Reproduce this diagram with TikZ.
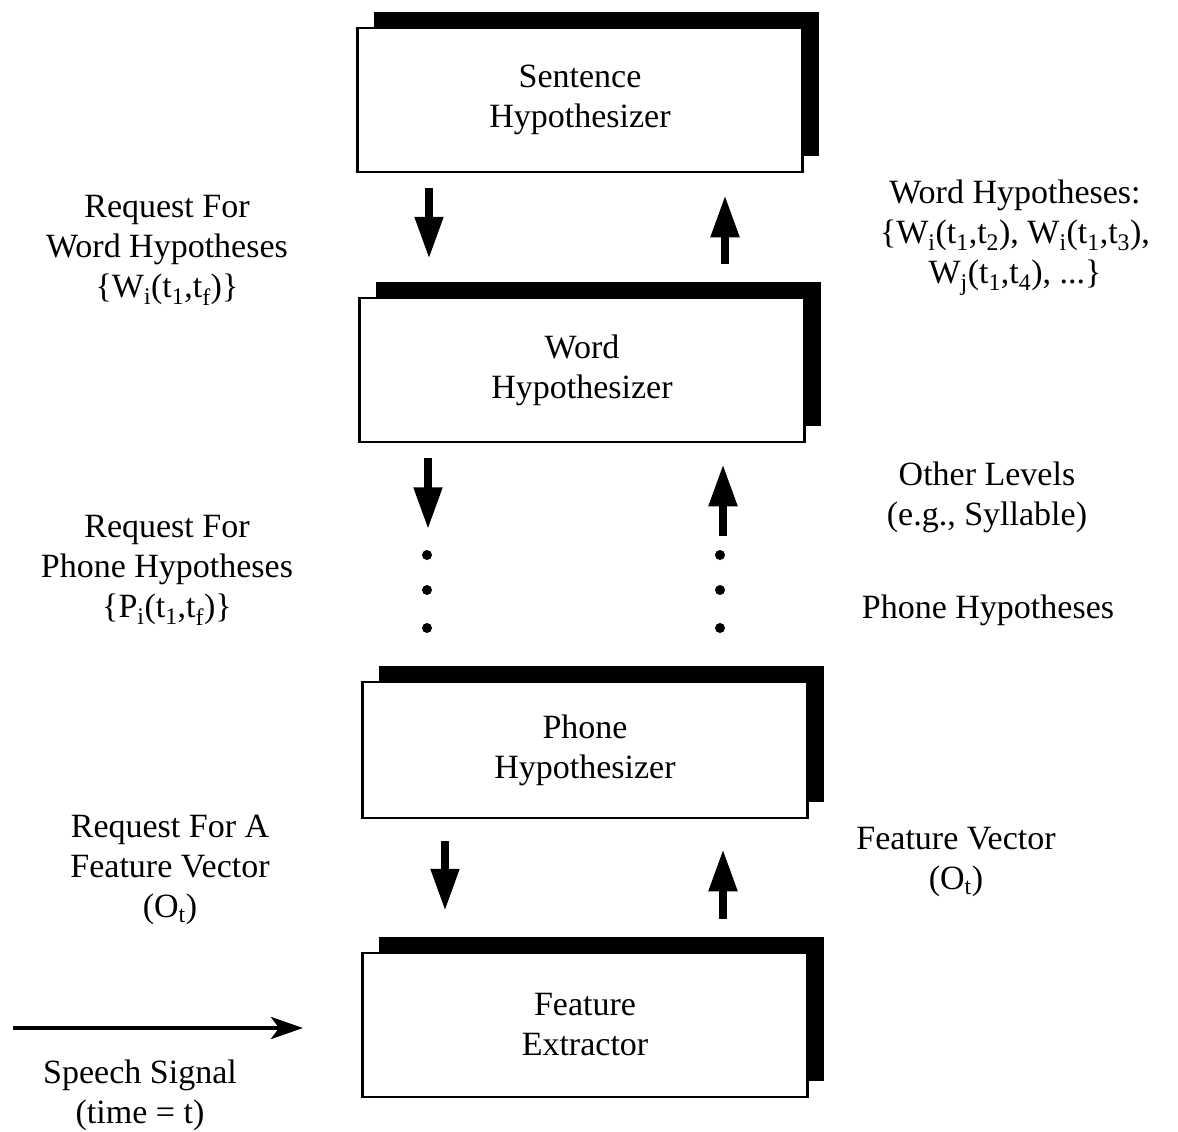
\documentclass[tikz,border=0pt]{standalone}
\usepackage{fontspec}
\setmainfont{Liberation Serif}
\usetikzlibrary{arrows.meta,calc,shadows}

\begin{document}
\begin{tikzpicture}[
    x=1pt, y=-1pt,
    every node/.style={font=\fontsize{34}{40}\selectfont, align=center, inner sep=0pt},
    hyp/.style={draw, line width=2.5pt, fill=white, minimum width=445pt, minimum height=144pt,
        general shadow={fill=black, shadow xshift=16pt, shadow yshift=16pt}},
    arr/.style={-{Triangle[length=42pt, width=27pt]}, line width=8pt},
    sig/.style={-{Stealth[length=32pt, width=22pt, inset=8pt]}, line width=4pt},
]
\useasboundingbox (0,0) rectangle (1178,1132);

% hypothesizer levels
\node[hyp] (sentence) at (580,100) {Sentence\\Hypothesizer};
\node[hyp] (word) at (582,370) {Word\\Hypothesizer};
\node[hyp, minimum height=136pt] (phone) at (585,750) {Phone\\Hypothesizer};
\node[hyp] (feature) at (585,1025) {Feature\\Extractor};

% labels
\node (reqWord) at (167,250) {Request For\\Word Hypotheses\\\{W\textsubscript{i}(t\textsubscript{1},t\textsubscript{f})\}};
\node (wordHyp) at (1015,238) {Word Hypotheses:\\\{W\textsubscript{i}(t\textsubscript{1},t\textsubscript{2}), W\textsubscript{i}(t\textsubscript{1},t\textsubscript{3}),\\W\textsubscript{j}(t\textsubscript{1},t\textsubscript{4}), ...\}};
\node (otherLvl) at (987,497) {Other Levels\\(e.g., Syllable)};
\node (phoneHyp) at (988,610) {Phone Hypotheses};
\node (reqPhone) at (167,570) {Request For\\Phone Hypotheses\\\{P\textsubscript{i}(t\textsubscript{1},t\textsubscript{f})\}};
\node (reqFeat) at (170,870) {Request For A\\Feature Vector\\(O\textsubscript{t})};
\node (featVec) at (956,862) {Feature Vector\\(O\textsubscript{t})};
\node (speech) at (140,1095) {Speech Signal\\(time = t)};

% requests and hypotheses
\draw[arr] ($(sentence.south)+(-151,15)$) -- ($(word.north)+(-153,-38)$);
\draw[arr] ($(word.north)+(143,-33)$) -- ($(sentence.south)+(145,22)$);
\draw[arr] ($(word.south)+(-154,15)$) -- ($(word.south)+(-154,86)$);
\draw[arr] ($(phone.north)+(138,-145)$) -- ($(word.south)+(141,21)$);
\foreach \y in {555,590,628} {
    \fill (427,\y) circle (5pt);
    \fill (720,\y) circle (5pt);
}
\draw[arr] ($(phone.south)+(-140,22)$) -- ($(feature.north)+(-140,-41)$);
\draw[arr] ($(feature.north)+(138,-33)$) -- ($(phone.south)+(138,30)$);

% input signal
\coordinate (sigStart) at (13,1028);
\coordinate (sigEnd) at (303,1028);
\draw[sig] (sigStart) -- (sigEnd);
\end{tikzpicture}
\end{document}
